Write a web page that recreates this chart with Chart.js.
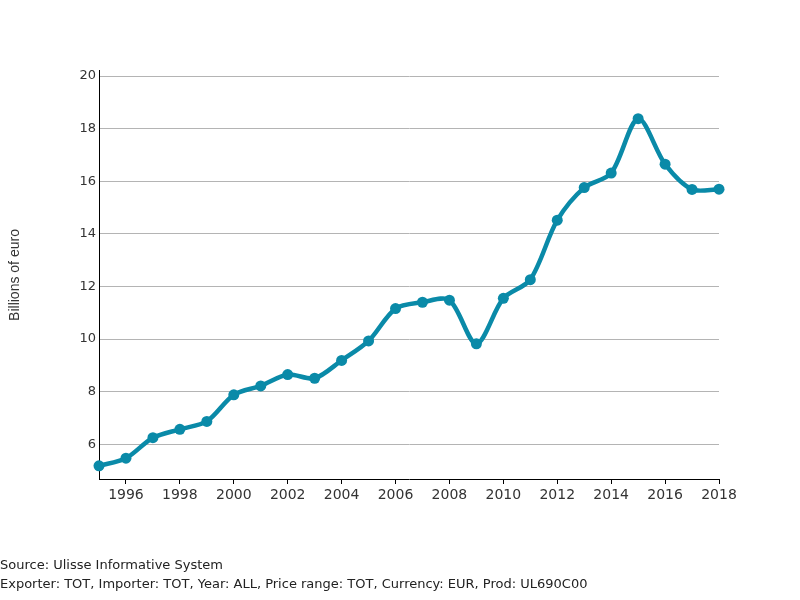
<!DOCTYPE html>
<html>
<head>
<meta charset="utf-8">
<script src="https://cdn.jsdelivr.net/npm/chart.js@4.4.1/dist/chart.umd.min.js"></script>
<style>
  html, body { margin: 0; padding: 0; background: #fff; }
  #wrap { width: 800px; height: 600px; position: relative; }
</style>
</head>
<body>
<div id="wrap"><canvas id="grafico" width="800" height="600"></canvas></div>
<script>
const years = [1995, 1996, 1997, 1998, 1999, 2000, 2001, 2002, 2003, 2004, 2005, 2006,
	2007, 2008, 2009, 2010, 2011, 2012, 2013, 2014, 2015, 2016, 2017, 2018];
const values = [5.18, 5.47, 6.25, 6.57, 6.87, 7.88, 8.22, 8.65, 8.51, 9.19, 9.93, 11.16,
	11.40, 11.48, 9.82, 11.55, 12.26, 14.52, 15.76, 16.31, 18.38, 16.65, 15.69, 15.70];
const xTicks = [1996, 1998, 2000, 2002, 2004, 2006, 2008, 2010, 2012, 2014, 2016, 2018];
const yTicks = [6, 8, 10, 12, 14, 16, 18, 20];
const yTitle = "Billions of euro";
const note1 = "Source: Ulisse Informative System";
const note2 = "Exporter: TOT, Importer: TOT, Year: ALL, Price range: TOT, Currency: EUR, Prod: UL690C00";

const COLORE = "#0a8aa8";
const FONT = "'DejaVu Sans', sans-serif";

// scritte esterne: titolo asse y e note in basso
const testiPlugin = {
	id: "testi",
	afterDraw(chart) {
		let ctx = chart.ctx;
		ctx.save();
		ctx.fillStyle = "#333";
		ctx.font = "14px 'Liberation Sans', Arial, sans-serif";
		ctx.textAlign = "center";
		ctx.textBaseline = "middle";
		ctx.translate(15, 275);
		ctx.rotate(-Math.PI / 2);
		ctx.fillText(yTitle, 0, 0);
		ctx.restore();

		ctx.save();
		ctx.fillStyle = "#222";
		ctx.font = "13px " + FONT;
		ctx.textAlign = "left";
		ctx.textBaseline = "middle";
		ctx.fillText(note1, 0, 566);
		ctx.fillText(note2, 0, 585);
		ctx.restore();
	}
};

let points = years.map((y, i) => ({ x: y, y: values[i] }));

let data = {
	type: "line",
	data: {
		datasets: [{
			data: points,
			borderColor: COLORE,
			backgroundColor: COLORE,
			borderWidth: 4.5,
			pointRadius: 5.5,
			pointBorderWidth: 0,
			pointHoverRadius: 5.5,
			tension: 0.3,
			clip: false
		}]
	},
	options: {
		responsive: false,
		animation: false,
		layout: { padding: { left: 0, top: 70, right: 81, bottom: 101 } },
		plugins: { legend: { display: false }, tooltip: { enabled: false } },
		scales: {
			x: {
				type: "linear",
				min: 1995,
				max: 2018,
				afterBuildTicks: (axis) => { axis.ticks = xTicks.map(v => ({ value: v })); },
				afterFit: (axis) => { axis.height = 20; },
				grid: { drawOnChartArea: false, drawTicks: true, tickLength: 5, color: "#000" },
				border: { color: "#000", width: 1 },
				ticks: { color: "#333", font: { family: FONT, size: 14 }, padding: 3, maxRotation: 0,
					callback: (v) => String(v) }
			},
			y: {
				type: "linear",
				min: 4.68,
				max: 20.23,
				afterBuildTicks: (axis) => { axis.ticks = yTicks.map(v => ({ value: v })); },
				afterFit: (axis) => { axis.width = 99; },
				grid: { color: "#b4b4b4", drawTicks: false, lineWidth: 1 },
				border: { color: "#000", width: 1 },
				ticks: { color: "#333", font: { family: FONT, size: 13 }, padding: 3 }
			}
		}
	},
	plugins: [testiPlugin]
};

let chart = new Chart(document.getElementById("grafico"), data);
</script>
</body>
</html>
